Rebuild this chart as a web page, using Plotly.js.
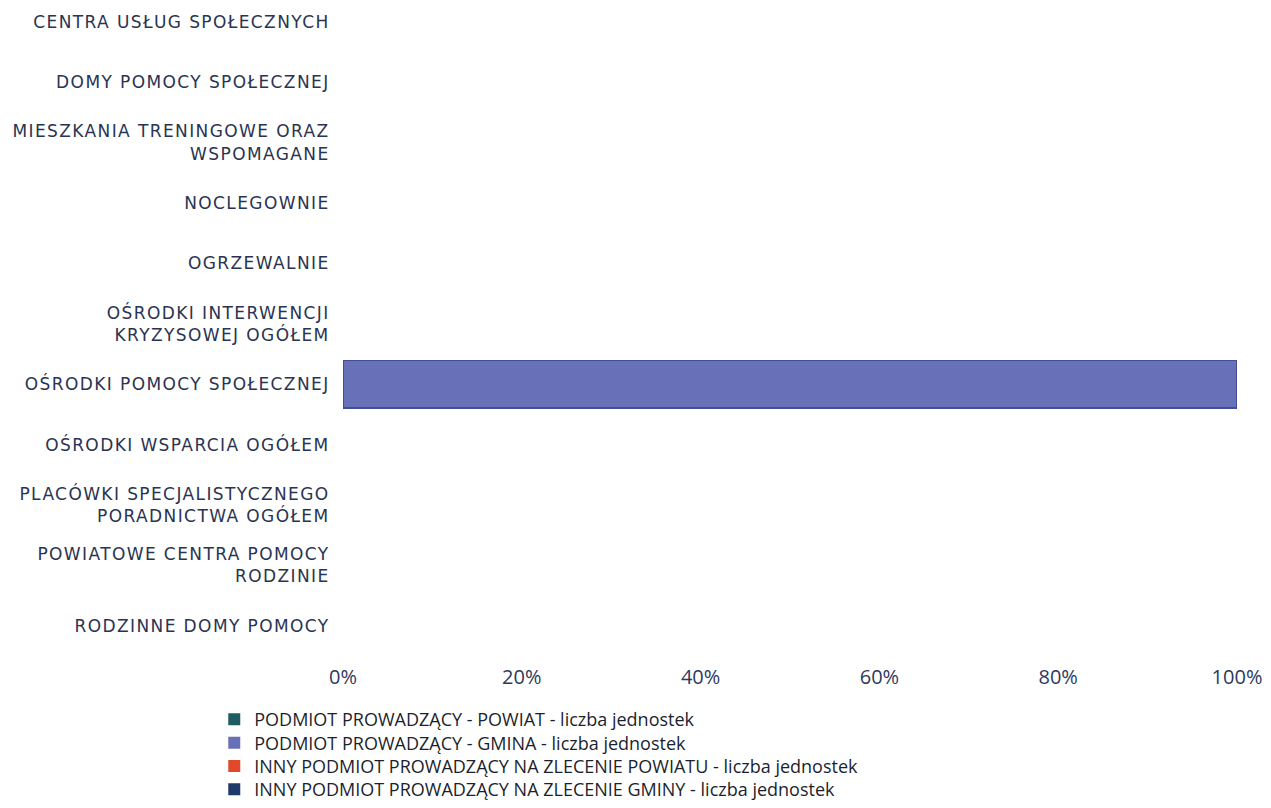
<!DOCTYPE html>
<html>
<head>
<meta charset="utf-8">
<script src="https://cdn.plot.ly/plotly-3.0.1.min.js"></script>
<style>
html,body{margin:0;padding:0;background:#fff;}
#chart{width:1271px;height:808px;}
#chart .ytick text{letter-spacing:1.4px;}
</style>
</head>
<body>
<div id="chart"></div>
<script>
const categories = [
  "CENTRA USŁUG SPOŁECZNYCH",
  "DOMY POMOCY SPOŁECZNEJ",
  "MIESZKANIA TRENINGOWE ORAZ<br>WSPOMAGANE",
  "NOCLEGOWNIE",
  "OGRZEWALNIE",
  "OŚRODKI INTERWENCJI<br>KRYZYSOWEJ OGÓŁEM",
  "OŚRODKI POMOCY SPOŁECZNEJ",
  "OŚRODKI WSPARCIA OGÓŁEM",
  "PLACÓWKI SPECJALISTYCZNEGO<br>PORADNICTWA OGÓŁEM",
  "POWIATOWE CENTRA POMOCY<br>RODZINIE",
  "RODZINNE DOMY POMOCY"
];
const seriesNames = [
  "PODMIOT PROWADZĄCY - POWIAT - liczba jednostek",
  "PODMIOT PROWADZĄCY - GMINA - liczba jednostek",
  "INNY PODMIOT PROWADZĄCY NA ZLECENIE POWIATU - liczba jednostek",
  "INNY PODMIOT PROWADZĄCY NA ZLECENIE GMINY - liczba jednostek"
];
const powiat       = [0,0,0,0,0,0,0,0,0,0,0];
const gmina        = [0,0,0,0,0,0,1,0,0,0,0];
const zleceniePow  = [0,0,0,0,0,0,0,0,0,0,0];
const zlecenieGmin = [0,0,0,0,0,0,0,0,0,0,0];
const tickVals = [0,20,40,60,80,100];
const tickText = ["0%","20%","40%","60%","80%","100%"];

const colors = ["#1f5b62","#6870b8","#e2492a","#1d3a6b"];
const lineColors = ["#173f45","#454c98","#b53318","#13284d"];
const values = [powiat, gmina, zleceniePow, zlecenieGmin];
const legendIds = ["legend","legend2","legend3","legend4"];

const totals = categories.map((_, i) => values.reduce((s, v) => s + v[i], 0));
const traces = values.map((v, k) => {
  const pct = v.map((val, i) => totals[i] ? val / totals[i] * 100 : 0);
  return {
    type: "bar",
    orientation: "h",
    name: seriesNames[k],
    legend: legendIds[k],
    y: categories,
    x: pct,
    marker: {color: colors[k], line: {color: lineColors[k], width: pct.map(p => p > 0 ? 1.5 : 0)}},
    hoverinfo: "name+x"
  };
});

const plotBottom = 660, plotH = 660;
const legendCenters = [724, 747.5, 771, 794.5];
const legendFont = {family: "Open Sans, sans-serif", size: 18, color: "#1b1f2e"};
function legendAt(px) {
  return {
    orientation: "v",
    x: -0.144, xanchor: "left",
    y: -(px - plotBottom) / plotH, yanchor: "middle",
    font: legendFont,
    itemwidth: 30,
    bgcolor: "rgba(0,0,0,0)",
    borderwidth: 0
  };
}

const layout = {
  width: 1271, height: 808,
  paper_bgcolor: "#ffffff", plot_bgcolor: "#ffffff",
  barmode: "stack",
  bargap: 0.21,
  margin: {l: 343, r: 34, t: 0, b: 148},
  font: {family: "Open Sans, sans-serif", color: "#2a3452"},
  xaxis: {
    range: [0, 100],
    tickvals: tickVals, ticktext: tickText,
    showgrid: false, zeroline: false, showline: false,
    ticks: "outside", ticklen: 3, tickcolor: "rgba(0,0,0,0)",
    ticklabelstandoff: 0,
    tickfont: {family: "Open Sans, sans-serif", size: 20, color: "#2d3a5c"}
  },
  yaxis: {
    type: "category",
    range: [10.5, -0.36],
    showgrid: false, zeroline: false, showline: false,
    ticks: "outside", ticklen: 9, tickcolor: "rgba(0,0,0,0)",
    tickfont: {family: "DejaVu Sans, sans-serif", size: 17, color: "#2a3452"}
  },
  showlegend: true,
  legend: legendAt(legendCenters[0]),
  legend2: legendAt(legendCenters[1]),
  legend3: legendAt(legendCenters[2]),
  legend4: legendAt(legendCenters[3])
};

Plotly.newPlot("chart", traces, layout, {displayModeBar: false, staticPlot: true});
</script>
</body>
</html>
